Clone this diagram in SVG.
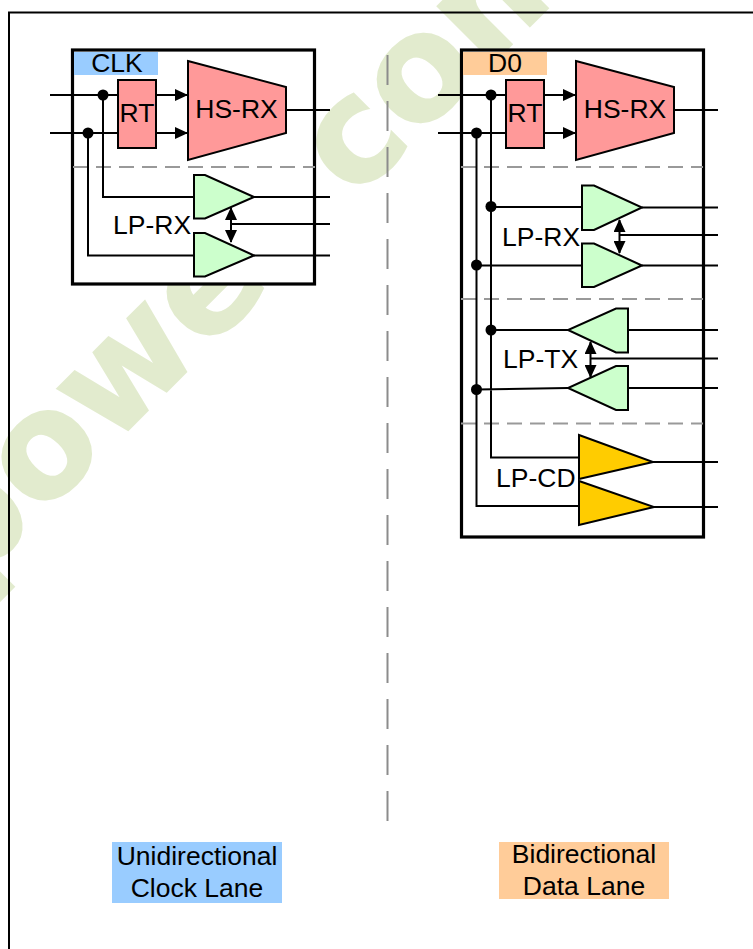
<svg xmlns="http://www.w3.org/2000/svg" width="753" height="949" viewBox="0 0 753 949">
<defs>
<style>
text{font-family:"Liberation Sans",Arial,sans-serif;font-size:26.500px;fill:#000}
text.wm{font-family:"DejaVu Sans",sans-serif;font-weight:700;font-size:145px;fill:#e2ebce;stroke:#e2ebce;stroke-width:2}
.w{stroke:#000;stroke-width:2;fill:none}
.d{stroke:#999;stroke-width:2;fill:none;stroke-dasharray:15 8}
.box{fill:#fff;stroke:#000;stroke-width:3.200}
.s{stroke:#000;stroke-width:2;stroke-linejoin:miter}
.red{fill:#ff9999}.grn{fill:#ccffcc}.yel{fill:#ffcc00}
</style>
<marker id="a" viewBox="0 0 13 12" refX="12" refY="6" markerWidth="13" markerHeight="12" markerUnits="userSpaceOnUse" orient="auto-start-reverse"><path d="M0 0L13 6L0 12z" fill="#000"/></marker>
</defs>
<rect width="753" height="949" fill="#fff"/>
<text class="wm" x="-34" y="592" transform="rotate(-45 -34 592)">powe</text>
<text class="wm" x="354" y="202" transform="rotate(-45 354 202)">com</text>
<path d="M9 949V12.500H753" fill="none" stroke="#000" stroke-width="2"/>
<g id="clk-lane">
<rect class="box" x="72.500" y="50" width="242" height="234"/>
<rect x="74" y="52" width="84" height="23" fill="#99ccff"/>
<text x="117" y="72" text-anchor="middle">CLK</text>
</g>
<g id="d0-lane">
<rect class="box" x="461.500" y="50" width="242" height="487"/>
<rect x="463" y="52" width="84" height="23" fill="#ffcc99"/>
<text x="505" y="72" text-anchor="middle">D0</text>
</g>
<g id="connectors">
<path class="d" d="M73 167H315M461 167H703M461 299H703M461 423.500H703"/>
<path class="d" d="M387.500 55V821" style="stroke-dasharray:30 16;stroke:#8c8c8c"/>
<path class="w" d="M50 95H118M50 133H118"/>
<path class="w" d="M156 95H187" marker-end="url(#a)"/>
<path class="w" d="M156 133H187" marker-end="url(#a)"/>
<path class="w" d="M286 110H330M103 95V197H194M88 133V255.500H194M254 197H330M254 255.500H330M231 224H330"/>
<path class="w" d="M231 208V242" marker-start="url(#a)" marker-end="url(#a)"/>
<path class="w" d="M438 95H506M438 133H506M674 110H718"/>
<path class="w" d="M544 95H575" marker-end="url(#a)"/>
<path class="w" d="M544 133H575" marker-end="url(#a)"/>
<path class="w" d="M491 95V457.500H579M476.500 133V506H579M491 207H582M476.500 265.500H582M642 207.500H718M642 265.500H718M619.500 235H718M491 330H568M476.500 389.500L568 388M628 330H718M628 388H718M590.500 358.500H718M653 462H718M654 507H718"/>
<path class="w" d="M619.500 220V253" marker-start="url(#a)" marker-end="url(#a)"/>
<path class="w" d="M590.500 342V377" marker-start="url(#a)" marker-end="url(#a)"/>
<g fill="#000"><circle cx="103" cy="95" r="5.500"/><circle cx="88" cy="133" r="5.500"/><circle cx="491" cy="95" r="5.500"/><circle cx="476.500" cy="133" r="5.500"/><circle cx="491" cy="206.500" r="5.500"/><circle cx="476.500" cy="265" r="5.500"/><circle cx="491" cy="330" r="5.500"/><circle cx="476.500" cy="389.500" r="5.500"/></g>
</g>
<g id="clk-rt"><rect class="s red" x="118" y="80" width="38" height="68"/><text x="137" y="122" text-anchor="middle">RT</text></g>
<g id="clk-hsrx"><path class="s red" d="M188 61L286 87V133L188 160z"/><text x="236.500" y="118" text-anchor="middle">HS-RX</text></g>
<g id="clk-lprx"><path class="s grn" d="M194 175H205L254 197L205 218.500H194z"/><path class="s grn" d="M194 233H205L254 255.500L205 276.500H194z"/><text x="113" y="234">LP-RX</text></g>
<g id="d0-rt"><rect class="s red" x="506" y="80" width="38" height="68"/><text x="525" y="122" text-anchor="middle">RT</text></g>
<g id="d0-hsrx"><path class="s red" d="M576 61L674 87V133L576 160z"/><text x="625" y="118" text-anchor="middle">HS-RX</text></g>
<g id="d0-lprx"><path class="s grn" d="M582 185.500H594L642 207.500L594 230H582z"/><path class="s grn" d="M582 243.500H594L642 265.500L594 287H582z"/><text x="502" y="246">LP-RX</text></g>
<g id="d0-lptx"><path class="s grn" d="M628 308.500H616L568 330L616 352.500H628z"/><path class="s grn" d="M628 366H616L568 388L616 410H628z"/><text x="503" y="368">LP-TX</text></g>
<g id="d0-lpcd"><path class="s yel" d="M579 435L653 462L579 479z"/><path class="s yel" d="M579 481L654 507L579 525z"/><text x="496" y="487">LP-CD</text></g>
<g id="label-clock"><rect x="112" y="842" width="170" height="61" fill="#99ccff"/><text x="197" y="865" text-anchor="middle">Unidirectional</text><text x="197" y="897" text-anchor="middle">Clock Lane</text></g>
<g id="label-data"><rect x="499" y="842" width="170" height="57" fill="#ffcc99"/><text x="584" y="863" text-anchor="middle">Bidirectional</text><text x="584" y="895" text-anchor="middle">Data Lane</text></g>
</svg>
